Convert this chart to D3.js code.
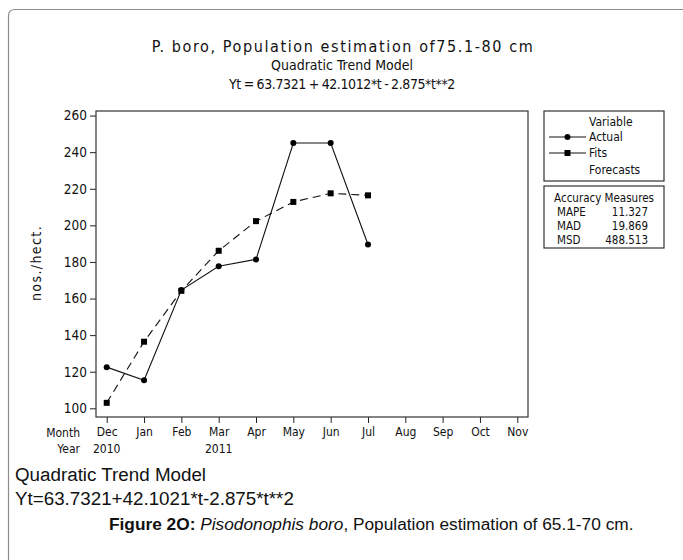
<!DOCTYPE html>
<html>
<head>
<meta charset="utf-8">
<script src="https://cdn.jsdelivr.net/npm/d3@7"></script>
<style>
  html, body { margin: 0; padding: 0; background: #fff; }
  svg { display: block; }
  .mt { font-family: "DejaVu Sans Condensed", "DejaVu Sans", sans-serif; font-stretch: condensed; }
  .cap { font-family: "Liberation Sans", Arial, sans-serif; }
</style>
</head>
<body>
<div id="chart"></div>
<script>
// ── Data ─────────────────────────────────────────────────────
const months      = ['Dec', 'Jan', 'Feb', 'Mar', 'Apr', 'May', 'Jun', 'Jul', 'Aug', 'Sep', 'Oct', 'Nov'];
const yearMonths  = ['Dec', 'Mar'];
const yearLabels  = ['2010', '2011'];
const actual      = [122.5, 115.3, 164.6, 177.6, 181.4, 245.0, 245.0, 189.5];
const fits        = [103.0, 136.4, 164.2, 186.1, 202.3, 212.8, 217.5, 216.4];
const yTicks      = [100, 120, 140, 160, 180, 200, 220, 240, 260];
const accNames    = ['MAPE', 'MAD', 'MSD'];
const accValues   = ['11.327', '19.869', '488.513'];
const legendNames = ['Actual', 'Fits', 'Forecasts'];

const W = 683, H = 560;
const box = { left: 96, right: 528, top: 111, bottom: 417 };
const FONT = '"DejaVu Sans Condensed", "DejaVu Sans", sans-serif';

const svg = d3.select('#chart').append('svg')
  .attr('width', W).attr('height', H);

svg.append('rect').attr('width', W).attr('height', H).attr('fill', '#fff');

// page frame
svg.append('path')
  .attr('d', `M8.5,${H + 5} L8.5,16 Q8.5,9.5 15,9.5 L${W + 2},9.5`)
  .attr('fill', 'none').attr('stroke', '#8c8c8c').attr('stroke-width', 1.2);

// ── Scales ───────────────────────────────────────────────────
const x = d3.scalePoint().domain(months).range([box.left, box.right]).padding(0.287);
const y = d3.scaleLinear().domain([95.25, 262.5]).range([box.bottom, box.top]);

// ── Titles ───────────────────────────────────────────────────
svg.append('text').attr('class', 'mt')
  .attr('x', 343).attr('y', 52).attr('text-anchor', 'middle')
  .attr('font-size', 16).attr('letter-spacing', 1.6).attr('fill', '#111')
  .text('P. boro, Population estimation of75.1-80 cm');
svg.append('text').attr('class', 'mt')
  .attr('x', 342).attr('y', 70).attr('text-anchor', 'middle')
  .attr('font-size', 14).attr('fill', '#111')
  .text('Quadratic Trend Model');
svg.append('text').attr('class', 'mt')
  .attr('x', 342).attr('y', 89).attr('text-anchor', 'middle')
  .attr('font-size', 14).attr('letter-spacing', -0.4).attr('word-spacing', -0.8)
  .attr('fill', '#111')
  .text('Yt = 63.7321 + 42.1012*t - 2.875*t**2');

// ── Axes ─────────────────────────────────────────────────────
const yAxis = svg.append('g')
  .attr('transform', `translate(${box.left},0)`)
  .call(d3.axisLeft(y).tickValues(yTicks).tickSize(6).tickPadding(3));
yAxis.select('.domain').remove();
yAxis.selectAll('text').attr('font-size', 13.5).attr('fill', '#111').attr('font-family', FONT);
yAxis.selectAll('line').attr('stroke', '#222');

const xAxis = svg.append('g')
  .attr('transform', `translate(0,${box.bottom})`)
  .call(d3.axisBottom(x).tickSize(6).tickPadding(4));
xAxis.select('.domain').remove();
xAxis.selectAll('text').attr('font-size', 12).attr('fill', '#111').attr('font-family', FONT);
xAxis.selectAll('line').attr('stroke', '#222');

svg.append('g').attr('class', 'mt')
  .selectAll('text').data(yearMonths).join('text')
  .attr('x', d => x(d)).attr('y', 453).attr('text-anchor', 'middle')
  .attr('font-size', 12).attr('fill', '#111')
  .text((d, i) => yearLabels[i]);

svg.append('text').attr('class', 'mt')
  .attr('x', 80).attr('y', 437).attr('text-anchor', 'end')
  .attr('font-size', 12).attr('fill', '#111').text('Month');
svg.append('text').attr('class', 'mt')
  .attr('x', 80).attr('y', 453).attr('text-anchor', 'end')
  .attr('font-size', 12).attr('fill', '#111').text('Year');

svg.append('text').attr('class', 'mt')
  .attr('transform', 'translate(41,263) rotate(-90)')
  .attr('text-anchor', 'middle').attr('font-size', 14)
  .attr('letter-spacing', 1.4).attr('fill', '#111')
  .text('nos./hect.');

// plot box
svg.append('rect')
  .attr('x', box.left).attr('y', box.top)
  .attr('width', box.right - box.left).attr('height', box.bottom - box.top)
  .attr('fill', 'none').attr('stroke', '#333').attr('stroke-width', 1.2);

// ── Series ───────────────────────────────────────────────────
const line = d3.line().x((d, i) => x(months[i])).y(d => y(d));

svg.append('path').datum(fits)
  .attr('d', line).attr('fill', 'none')
  .attr('stroke', '#111').attr('stroke-width', 1.1).attr('stroke-dasharray', '8,5');

svg.append('path').datum(actual)
  .attr('d', line).attr('fill', 'none')
  .attr('stroke', '#111').attr('stroke-width', 1.1);

svg.append('g').selectAll('rect').data(fits).join('rect')
  .attr('x', (d, i) => x(months[i]) - 3).attr('y', d => y(d) - 3)
  .attr('width', 6).attr('height', 6).attr('fill', '#000');

svg.append('g').selectAll('circle').data(actual).join('circle')
  .attr('cx', (d, i) => x(months[i])).attr('cy', d => y(d))
  .attr('r', 3).attr('fill', '#000');

// ── Legend ───────────────────────────────────────────────────
const lg = svg.append('g').attr('class', 'mt');
lg.append('rect').attr('x', 544).attr('y', 111).attr('width', 120).attr('height', 70)
  .attr('fill', 'none').attr('stroke', '#333').attr('stroke-width', 1.2);
lg.append('text').attr('x', 589).attr('y', 126).attr('font-size', 12).attr('fill', '#111').text('Variable');

const legY = [137, 153, 170];
lg.selectAll('.lt').data(legendNames).join('text').attr('class', 'lt')
  .attr('x', 589).attr('y', (d, i) => legY[i] + 4)
  .attr('font-size', 12).attr('fill', '#111').text(d => d);
[0, 1].forEach(i => {
  lg.append('line').attr('x1', 549).attr('x2', 586).attr('y1', legY[i]).attr('y2', legY[i])
    .attr('stroke', '#111').attr('stroke-width', 1.1);
});
lg.append('circle').attr('cx', 567.5).attr('cy', legY[0]).attr('r', 3).attr('fill', '#000');
lg.append('rect').attr('x', 564.5).attr('y', legY[1] - 3).attr('width', 6).attr('height', 6).attr('fill', '#000');

lg.append('rect').attr('x', 544).attr('y', 186).attr('width', 120).attr('height', 62)
  .attr('fill', 'none').attr('stroke', '#333').attr('stroke-width', 1.2);
lg.append('text').attr('x', 604).attr('y', 202).attr('text-anchor', 'middle')
  .attr('font-size', 11.5).attr('fill', '#111').text('Accuracy Measures');
const accY = [216, 230, 243.5];
lg.selectAll('.an').data(accNames).join('text').attr('class', 'an')
  .attr('x', 557).attr('y', (d, i) => accY[i])
  .attr('font-size', 11.5).attr('fill', '#111').text(d => d);
lg.selectAll('.av').data(accValues).join('text').attr('class', 'av')
  .attr('x', 648).attr('y', (d, i) => accY[i]).attr('text-anchor', 'end')
  .attr('font-size', 11.5).attr('fill', '#111').text(d => d);

// ── Caption below the chart ──────────────────────────────────
svg.append('text').attr('class', 'cap')
  .attr('x', 15).attr('y', 481).attr('font-size', 18.8).attr('fill', '#111')
  .text('Quadratic Trend Model');
svg.append('text').attr('class', 'cap')
  .attr('x', 15).attr('y', 505).attr('font-size', 18.8).attr('fill', '#111')
  .text('Yt=63.7321+42.1021*t-2.875*t**2');

const fig = svg.append('text').attr('class', 'cap')
  .attr('x', 109).attr('y', 530).attr('font-size', 17.3).attr('fill', '#111');
fig.append('tspan').attr('font-weight', 'bold').text('Figure 2O: ');
fig.append('tspan').attr('font-style', 'italic').text('Pisodonophis boro');
fig.append('tspan').text(', Population estimation of 65.1-70 cm.');
</script>
</body>
</html>
